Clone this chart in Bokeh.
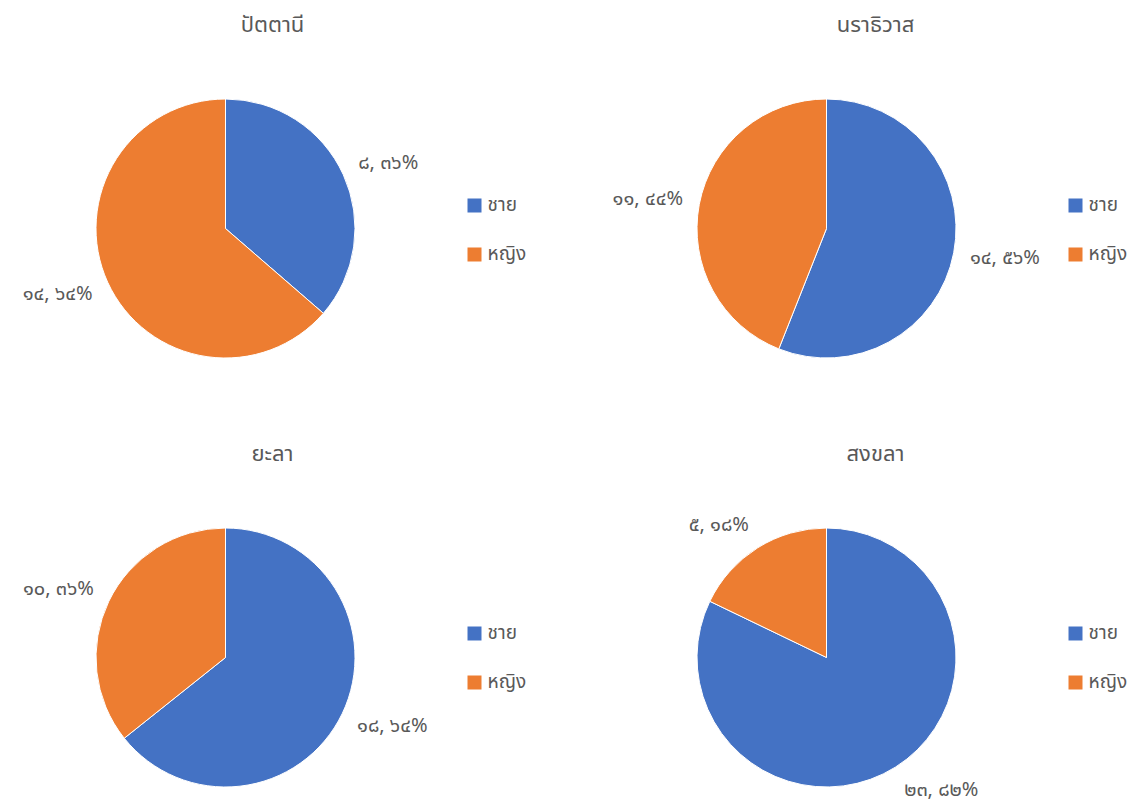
import math
from bokeh.plotting import figure
from bokeh.models import Range1d
from bokeh.core.properties import value
from bokeh.embed import file_html
from bokeh.resources import INLINE

# ---- data ----
provinces = ["ปัตตานี", "นราธิวาส", "ยะลา", "สงขลา"]
categories = ["ชาย", "หญิง"]
male = [8, 14, 18, 23]
female = [14, 11, 10, 5]
thai_digits = "๐๑๒๓๔๕๖๗๘๙"

colors = ["#4472C4", "#ED7D31"]
text_color = "#595959"
FONT = "Noto Sans Thai, Leelawadee UI, Tahoma, Noto Sans, sans-serif"

W, H = 1131, 805
p = figure(width=W, height=H, output_backend="svg", toolbar_location=None,
           x_range=Range1d(0, W), y_range=Range1d(0, H), min_border=0)
p.axis.visible = False
p.grid.visible = False
p.outline_line_color = None
p.background_fill_color = "white"
p.border_fill_color = "white"


def px(X):
    return X


def py(Y):
    return H - Y


def thai(n):
    return "".join(thai_digits[int(c)] for c in str(n))


# layout: pie centers in page pixels, title centers, legend x
centers = [(225, 228), (826, 228), (225, 657), (826, 657)]
title_x = [272, 875, 272, 875]
title_y = [25, 25, 454, 454]
legend_x = [467, 1068, 467, 1068]
legend_y = [205, 205, 633, 633]
R = 129.5

for i, prov in enumerate(provinces):
    cx, cy = px(centers[i][0]), py(centers[i][1])
    vals = [male[i], female[i]]
    tot = sum(vals)
    start = math.pi / 2
    for j, v in enumerate(vals):
        frac = v / tot
        end = start - 2 * math.pi * frac
        p.wedge(x=[cx], y=[cy], radius=R, start_angle=[start], end_angle=[end],
                direction="clock", fill_color=colors[j], line_color="white", line_width=1)
        mid = (start + end) / 2
        ux, uy = math.cos(mid), math.sin(mid)
        label = f"{thai(v)}, {thai(round(frac * 100))}%"
        h = 22
        D = 146
        lx = cx + D * ux
        ly = max(cy + D * uy + uy * h / 2, 14)
        p.text(x=[lx], y=[ly], text=[label], text_align="left" if ux > 0 else "right",
               text_baseline="middle",
               text_font=value(FONT), text_font_size="20px", text_color=text_color)
        start = end
    # title
    p.text(x=[px(title_x[i])], y=[py(title_y[i])], text=[prov], text_align="center",
           text_baseline="middle", text_font=value(FONT), text_font_size="22px",
           text_color=text_color)
    # legend
    for j, cat in enumerate(categories):
        ly = py(legend_y[i] + 49 * j)
        p.rect(x=[px(legend_x[i]) + 7], y=[ly], width=14, height=14,
               fill_color=colors[j], line_color=None)
        p.text(x=[px(legend_x[i]) + 20], y=[ly], text=[cat], text_align="left",
               text_baseline="middle", text_font=value(FONT), text_font_size="19px",
               text_color=text_color)

open("out.html", "w").write(file_html(p, INLINE))
